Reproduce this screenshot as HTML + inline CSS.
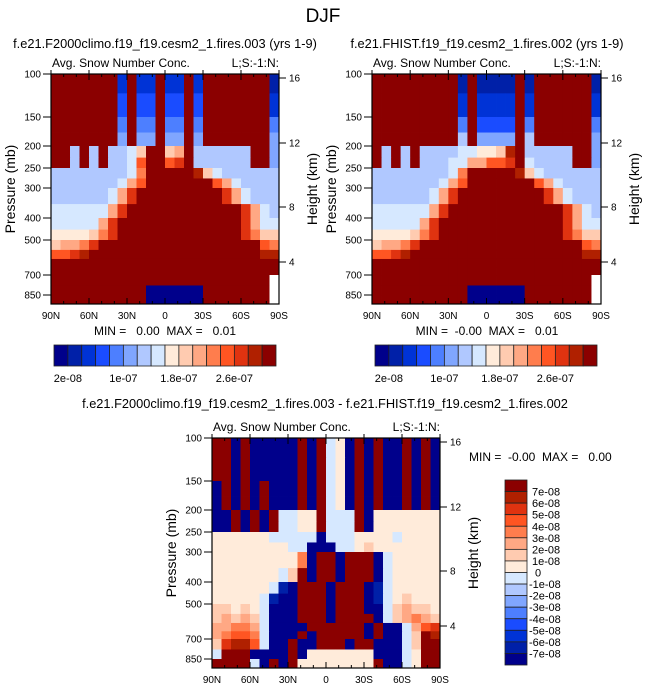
<!DOCTYPE html>
<html><head><meta charset="utf-8"><style>
html,body{margin:0;padding:0;background:#fff;}
svg{display:block;font-family:"Liberation Sans",sans-serif;}
text{white-space:pre;}
</style></head><body>
<svg id="fig" width="646" height="691" viewBox="0 0 646 691" xmlns="http://www.w3.org/2000/svg" xml:space="preserve">
<text x="323" y="22" font-size="19" text-anchor="middle">DJF</text>
</svg>
<script>
// ---- data ----
const pressureTicks = [100,150,200,250,300,400,500,700,850];
const pressureTickY = [74,117,146,168,188,218,240,275,295];
const heightTicks = [16,12,8,4];
const heightTickY = [78,143,207,262];
const latLabels = ["90N","60N","30N","0","30S","60S","90S"];
const levelBounds = [100,120,150,175,200,225,250,275,300,350,400,450,500,550,600,650,700,775,850,992];
const topCbarLabels = ["2e-08","1e-07","1.8e-07","2.6e-07"];
const topCbarLabelIdx = [1,5,9,13];
const diffCbarLabels = ["7e-08","6e-08","5e-08","4e-08","3e-08","2e-08","1e-08","0","-1e-08","-2e-08","-3e-08","-4e-08","-5e-08","-6e-08","-7e-08"];
const palette = ["#00008B","#0020A8","#0033D6","#1A4CFF","#4D7FFF","#80A6FF","#B0C8FF","#D6E8FF","#FFEBDA","#FFCBB0","#FFA884","#FF7D4D","#FF5522","#E03310","#B02000","#8B0000"];
// field values as binned level indices (hex), rows top(100mb)->bottom, cols 90N->90S
const fieldClimo = [
"fffffff2f22f22f2fffffff1","fffffff3f33f33f3fffffff2","fffffff4f44f44f4fffffff4","fffffff5f55f55f5fffffff5",
"ff6f6f6679ff9af666666ff5","ff6f6f667cffcdf666666ff5","666666667bfffffe97666666","66666667acfffffffca76666",
"6666667adfffffffffda7666","777777adffffffffffffda76","77777adfffffffffffffda77","88889bdfffffffffffffdb99",
"9aabdfffffffffffffffffcb","ccdeffffffffffffffffffee","ffffffffffffffffffffffff","ffffffffffffffffffffffff",
"fffffffffffffffffffffffw","ffffffffff000000fffffffw","ffffffffff000000fffffffw"];
const fieldHist = [
"fffffffff1f1111f1ffffff1","fffffffff2f2222f2ffffff2","fffffffff4f3333f4ffffff4","fffffffff6f5555f6ffffff5",
"f6f6f666677889ef66666ff5","f6f6f66677aaccdf76666ff5","666666667bfffffe97666666","66666667acfffffffca76666",
"6666667adfffffffffda7666","777777adffffffffffffda76","77777adfffffffffffffda77","88889bdfffffffffffffdb99",
"9aabdfffffffffffffffffcb","ccdeffffffffffffffffffee","ffffffffffffffffffffffff","ffffffffffffffffffffffff",
"fffffffffffffffffffffffw","ffffffffff000000fffffffw","ffffffffff000000fffffffw"];
const fieldDiff = [
"ff0f00000f0f780f0f00f0f0","ff0f00000f0f780f0f00f0f0","0f0f0f000f0f780f0f00f0f0","0f0f0f000f0f780f0f00f0f0",
"00f0f0f7788f777f08888888","00f0f0f7788f777f08888888","888888777770777888878888","888888887700077898888888",
"888888888b0ff0fff0788888","888888879f0ff0fff0788888","888888710fff0fff01788888","888887100fff0fff01789888",
"998987000fff0fff0079a998","9a9a97000fff0ffff079aba9","aabba70000ffffff0f007acd","abccb7000f0fffff0f0079fe",
"9deec700f00fff0ff00079ff","7fff0000f0888888800078ff","ffff70f0f88888888f0078ff"];

// ---- helpers ----
const NS="http://www.w3.org/2000/svg";
const svg=document.getElementById('fig');
function mk(tag,attrs,parent){const e=document.createElementNS(NS,tag);for(const k in attrs)e.setAttribute(k,attrs[k]);(parent||svg).appendChild(e);return e;}
function pY(p){
  const P=pressureTicks.concat([992]), Y=pressureTickY.concat([304]);
  for(let i=0;i<P.length-1;i++){ if(p<=P[i+1]){const t=(Math.log(p)-Math.log(P[i]))/(Math.log(P[i+1])-Math.log(P[i]));return Y[i]+t*(Y[i+1]-Y[i])-74;} }
  return 230;
}
function latX(col,ncol,w){return col/ncol*w;}

function panel(x0,y0,w,field,name){
  const g=mk('g',{});
  
  
  const H=230;
  field.forEach((row,ri)=>{
    const ya=y0+pY(levelBounds[ri]), yb=y0+pY(levelBounds[ri+1]);
    for(let c=0;c<row.length;c++){
      const ch=row[c]; const col= ch==='w' ? '#ffffff' : palette[parseInt(ch,16)];
      const xa=x0+latX(c,row.length,w), xb=x0+latX(c+1,row.length,w);
      const r=mk('rect',{x:xa.toFixed(2),y:ya.toFixed(2),width:(xb-xa+0.4).toFixed(2),height:(yb-ya+0.4).toFixed(2),fill:col},g);
      
      
    }
  });
  const fr=mk('rect',{x:x0,y:y0,width:w,height:H,fill:'none',stroke:'#000','stroke-width':1.2});
  
  
  pressureTicks.forEach((p,i)=>{
    const y=y0+pressureTickY[i]-74;
    mk('line',{x1:x0-8,x2:x0,y1:y,y2:y,stroke:'#000','stroke-width':1});
    const t=mk('text',{x:x0-10,y:y+3.5,'font-size':10,'text-anchor':'end'});t.textContent=p;
    
    
  });
  heightTicks.forEach((h,i)=>{
    const y=y0+heightTickY[i]-74;
    mk('line',{x1:x0+w,x2:x0+w+7,y1:y,y2:y,stroke:'#000','stroke-width':1});
    const t=mk('text',{x:x0+w+10,y:y+3.5,'font-size':10});t.textContent=h;
    
    
  });
  for(let k=0;k<=18;k++){
    const x=x0+k/18*w; const major=(k%3===0);
    mk('line',{x1:x,x2:x,y1:y0+H,y2:y0+H-(major?6:3),stroke:'#000','stroke-width':1});
    mk('line',{x1:x,x2:x,y1:y0,y2:y0+(major?6:3),stroke:'#000','stroke-width':1});
    if(major){mk('line',{x1:x,x2:x,y1:y0,y2:y0-4,stroke:'#000','stroke-width':1});}
  }
  latLabels.forEach((l,i)=>{
    const t=mk('text',{x:x0+i/6*w,y:y0+H+15,'font-size':10,'text-anchor':'middle'});t.textContent=l;
    
    
  });
  let t=mk('text',{x:x0+1,y:y0-7,'font-size':12});t.textContent='Avg. Snow Number Conc.';
  
  
  t=mk('text',{x:x0+w,y:y0-7,'font-size':12,'text-anchor':'end'});t.textContent='L;S:-1:N:';
  
  
  t=mk('text',{x:0,y:0,'font-size':14,'text-anchor':'middle',transform:`translate(${x0-36},${y0+115}) rotate(-90)`});t.textContent='Pressure (mb)';
  
  
  t=mk('text',{x:0,y:0,'font-size':14,'text-anchor':'middle',transform:`translate(${x0+w+38},${y0+115}) rotate(-90)`});t.textContent='Height (km)';
  
  
}
function txt(x,y,s,size,name,anchor){const t=mk('text',{x:x,y:y,'font-size':size,'text-anchor':anchor||'start'});t.textContent=s;
  
  return t;}

panel(51,74,228,fieldClimo,'panel-climo');
panel(372,74,229,fieldHist,'panel-hist');
panel(212,438,228,fieldDiff,'panel-diff');

txt(165,48,'f.e21.F2000climo.f19_f19.cesm2_1.fires.003 (yrs 1-9)',12.8,'panel-climo-title','middle');
txt(487,48,'f.e21.FHIST.f19_f19.cesm2_1.fires.002 (yrs 1-9)',12.8,'panel-hist-title','middle');
txt(165,335,'MIN =   0.00  MAX =   0.01',12,'panel-climo-minmax','middle');
txt(487,335,'MIN =  -0.00  MAX =   0.01',12,'panel-hist-minmax','middle');
txt(325,408,'f.e21.F2000climo.f19_f19.cesm2_1.fires.003 - f.e21.FHIST.f19_f19.cesm2_1.fires.002',12.8,'panel-diff-title','middle');
txt(469,461,'MIN =  -0.00  MAX =   0.00',12,'panel-diff-minmax');

function hbar(x0,y0,w,h,name){
  const bw=w/palette.length;
  palette.forEach((c,i)=>{const r=mk('rect',{x:x0+i*bw,y:y0,width:bw,height:h,fill:c,stroke:'#222','stroke-width':0.8});
    
    });
  topCbarLabels.forEach((l,i)=>txt(x0+topCbarLabelIdx[i]*bw,y0+h+16,l,11,name+'-label','middle'));
}
hbar(54,345,222,21,'colorbar-climo');
hbar(375,345,222,21,'colorbar-hist');
(function(){
  const x0=505,y0=480,w=22,h=185,bh=h/palette.length;
  for(let i=0;i<palette.length;i++){
    const r=mk('rect',{x:x0,y:y0+i*bh,width:w,height:bh,fill:palette[palette.length-1-i],stroke:'#222','stroke-width':0.8});
    
    
  }
  diffCbarLabels.forEach((l,i)=>txt(l==='0'?535:(l[0]==='-'?529:532),y0+(i+1)*bh+4,l,11,'colorbar-diff-label'));
})();
</script>
</body></html>
